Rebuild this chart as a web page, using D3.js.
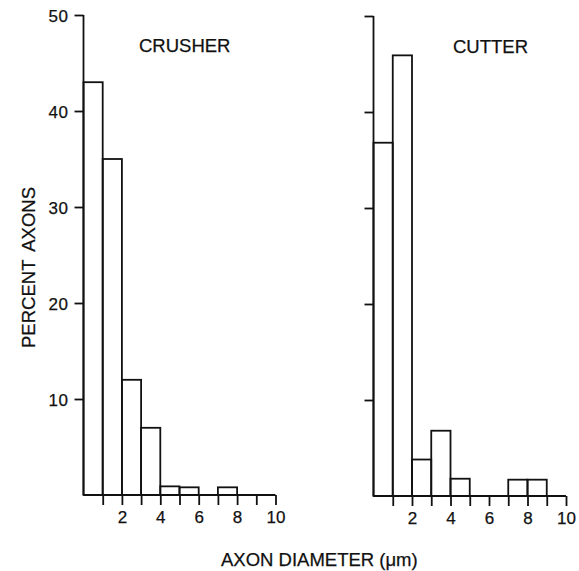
<!DOCTYPE html>
<html><head><meta charset="utf-8">
<script src="https://cdn.jsdelivr.net/npm/d3@7"></script>
<style>
body{margin:0;background:#fff;}
svg text{font-family:"Liberation Sans",Arial,Helvetica,sans-serif;fill:#111;stroke:#111;stroke-width:0.25px;}
</style></head>
<body><svg id="c" width="579" height="571"></svg>
<script>
// Bin edges (µm): bins 0-1, 1-2, ..., 9-10
const binStarts = [0,1,2,3,4,5,6,7,8,9];
const crusherValues = [43, 35, 12, 7, 0.9, 0.8, 0, 0.8, 0, 0];
const cutterValues  = [36.8, 45.9, 3.8, 6.8, 1.8, 0, 0, 1.7, 1.7, 0];
const yTicks = [10,20,30,40,50];
const xTicks = [1,2,3,4,5,6,7,8,9,10];
const xTickLabels = [2,4,6,8,10];
const panelTitles = ["CRUSHER","CUTTER"];

const svg = d3.select("#c");
const stroke = "#111", sw = 1.8;

const panels = [
  {title: panelTitles[0], values: crusherValues, x0: 83.5, x1: 275.5, y0: 495, y1: 15, labels: true, tx: 139, ty: 52},
  {title: panelTitles[1], values: cutterValues, x0: 373.5, x1: 566, y0: 496, y1: 16, labels: false, tx: 453, ty: 53}
];

panels.forEach(p => {
  const x = d3.scaleLinear().domain([0,10]).range([p.x0, p.x1]);
  const y = d3.scaleLinear().domain([0,50]).range([p.y0, p.y1]);
  const g = svg.append("g");

  // bars
  g.selectAll("rect.bar").data(binStarts.map((s,i)=>({s, v:p.values[i]})).filter(d=>d.v>0))
    .enter().append("rect")
    .attr("x", d=>x(d.s)).attr("width", d=>x(d.s+1)-x(d.s))
    .attr("y", d=>y(d.v)).attr("height", d=>y(0)-y(d.v))
    .attr("fill","none").attr("stroke",stroke).attr("stroke-width",sw);

  // y axis
  const ya = d3.axisLeft(y).tickValues(yTicks).tickSize(9).tickSizeOuter(0)
    .tickFormat(p.labels ? d3.format("d") : () => "").tickPadding(6);
  const yg = g.append("g").attr("transform", `translate(${p.x0},0)`).call(ya);
  yg.select(".domain").remove();
  yg.selectAll(".tick line").attr("stroke",stroke).attr("stroke-width",sw);
  yg.selectAll(".tick text").attr("font-size",17).attr("fill","#111").attr("dy","0.36em").attr("letter-spacing","0.5px");
  g.append("line").attr("x1",p.x0).attr("x2",p.x0).attr("y1",y(50)).attr("y2",y(0))
    .attr("stroke",stroke).attr("stroke-width",sw);

  // x axis
  const xa = d3.axisBottom(x).tickValues(xTicks).tickSize(10).tickSizeOuter(0)
    .tickFormat(d => xTickLabels.includes(d) ? d : "").tickPadding(6);
  const xg = g.append("g").attr("transform", `translate(0,${p.y0})`).call(xa);
  xg.select(".domain").remove();
  xg.selectAll(".tick line").attr("stroke",stroke).attr("stroke-width",sw);
  xg.selectAll(".tick text").attr("font-size",17).attr("fill","#111");
  g.append("line").attr("x1",x(0)).attr("x2",x(10)).attr("y1",y(0)).attr("y2",y(0))
    .attr("stroke",stroke).attr("stroke-width",sw);

  // title
  g.append("text").attr("x",p.tx).attr("y",p.ty).attr("font-size",18.5).text(p.title);
});

svg.append("text").attr("transform","translate(35,267.5) rotate(-90)")
  .attr("text-anchor","middle").attr("font-size",18.5).attr("word-spacing","4px").text("PERCENT AXONS");
svg.append("text").attr("x",221).attr("y",566).attr("font-size",18.5)
  .text("AXON DIAMETER (\u03BCm)");
</script></body></html>
